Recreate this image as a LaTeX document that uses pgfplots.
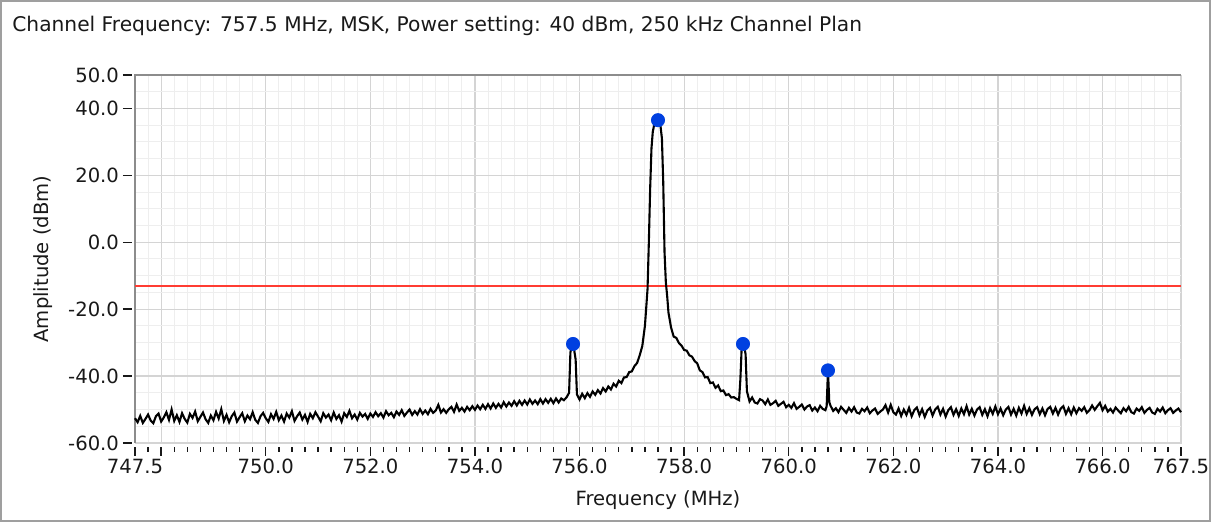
\documentclass[border=0pt]{standalone}
\usepackage{fontspec}
\setmainfont{DejaVu Sans}
\usepackage{pgfplots}
\pgfplotsset{compat=1.18}
\definecolor{majgrid}{RGB}{212,212,212}
\definecolor{mingrid}{RGB}{238,238,238}
\definecolor{axgray}{RGB}{140,140,140}
\definecolor{peakblue}{RGB}{0,64,224}
\definecolor{limred}{RGB}{255,60,50}
\definecolor{txt}{RGB}{25,25,25}

\begin{document}
\begin{tikzpicture}
\useasboundingbox (0pt,0pt) rectangle (605.5pt,261pt);
\draw[gray!75, line width=1pt] (0.5pt,0.5pt) rectangle (605pt,260.5pt);
\node[anchor=west, inner sep=0pt, text=txt, font=\fontsize{10.1}{12}\selectfont] at (6pt,248pt) {Channel Frequency: 757.5 MHz, MSK, Power setting: 40 dBm, 250 kHz Channel Plan};
\begin{axis}[
  at={(67.5pt,39.5pt)}, anchor=south west,
  scale only axis, width=523pt, height=184pt,
  xmin=747.5, xmax=767.5, ymin=-60, ymax=50,
  xtick={747.5,748,750,752,754,756,758,760,762,764,766,767.5},
  xticklabels={747.5,,750.0,752.0,754.0,756.0,758.0,760.0,762.0,764.0,766.0,767.5},
  minor xtick={747.5,747.75,...,767.5},
  ytick={-60,-40,-20,0,20,40,50},
  yticklabels={-60.0,-40.0,-20.0,0.0,20.0,40.0,50.0},
  minor ytick={-55,-50,...,45},
  grid=both,
  major grid style={majgrid, line width=0.6pt},
  minor grid style={mingrid, line width=0.5pt},
  axis line style={majgrid},
  tick pos=left,
  tick align=outside,
  major tick length=4.5pt, minor tick length=2.5pt,
  tick style={txt, line width=0.7pt},
  every minor y tick/.append style={draw=none},
  every major y tick/.append style={xshift=-1.5pt},
  every major x tick/.append style={yshift=-2pt},
  every minor x tick/.append style={yshift=-2pt},
  tick label style={text=txt, font=\fontsize{9.8}{12}\selectfont},
  label style={text=txt, font=\fontsize{9.8}{12}\selectfont},
  xlabel={Frequency (MHz)},
  ylabel={Amplitude (dBm)},
  xlabel style={at={(axis description cs:0.5,0)}, anchor=center, yshift=-28.5pt},
  ylabel style={at={(axis description cs:-0.088,0.5)}, anchor=center},
  clip=false,
]
\draw[axgray, line width=0.7pt] (rel axis cs:0,0) -- (rel axis cs:0,1) -- (rel axis cs:1,1);
\addplot[limred, line width=0.8pt] coordinates {(747.5,-13) (767.5,-13)};
\addplot[black, line width=1.05pt, mark=none] table {
747.50 -52.6
747.55 -53.8
747.60 -51.9
747.65 -54.0
747.70 -52.8
747.75 -51.5
747.80 -53.3
747.85 -54.1
747.90 -52.0
747.95 -51.2
748.00 -53.6
748.05 -52.4
748.10 -50.8
748.15 -53.1
748.20 -50.0
748.25 -53.4
748.30 -51.7
748.35 -53.7
748.40 -51.1
748.45 -52.8
748.50 -53.9
748.55 -51.3
748.60 -52.5
748.65 -50.6
748.70 -53.5
748.75 -52.2
748.80 -50.9
748.85 -52.9
748.90 -54.0
748.95 -51.8
749.00 -53.2
749.05 -50.7
749.10 -52.7
749.15 -49.9
749.20 -53.4
749.25 -51.6
749.30 -53.8
749.35 -52.0
749.40 -50.9
749.45 -53.6
749.50 -52.3
749.55 -51.1
749.60 -53.5
749.65 -51.8
749.70 -52.9
749.75 -50.8
749.80 -53.1
749.85 -54.0
749.90 -52.0
749.95 -51.0
750.00 -52.6
750.05 -53.7
750.10 -51.4
750.15 -52.8
750.20 -50.7
750.25 -53.2
750.30 -51.8
750.35 -53.6
750.40 -51.2
750.45 -52.4
750.50 -50.5
750.55 -53.4
750.60 -52.0
750.65 -50.9
750.70 -53.0
750.75 -51.6
750.80 -53.7
750.85 -51.3
750.90 -52.6
750.95 -50.8
751.00 -52.1
751.05 -53.5
751.10 -51.1
751.15 -52.4
751.20 -51.5
751.25 -53.2
751.30 -50.9
751.35 -52.8
751.40 -51.7
751.45 -53.6
751.50 -51.1
751.55 -52.2
751.60 -50.4
751.65 -52.6
751.70 -51.5
751.75 -53.0
751.80 -51.0
751.85 -52.1
751.90 -51.3
751.95 -52.8
752.00 -51.2
752.05 -52.2
752.10 -50.8
752.15 -52.0
752.20 -51.1
752.25 -52.4
752.30 -50.5
752.35 -51.7
752.40 -51.0
752.45 -52.3
752.50 -50.6
752.55 -51.6
752.60 -50.2
752.65 -51.9
752.70 -50.9
752.75 -50.0
752.80 -51.6
752.85 -50.5
752.90 -51.5
752.95 -49.9
753.00 -51.3
753.05 -50.3
753.10 -51.4
753.15 -49.8
753.20 -51.0
753.25 -50.3
753.30 -48.6
753.35 -50.9
753.40 -49.9
753.45 -51.0
753.50 -49.9
753.55 -49.2
753.60 -50.7
753.65 -48.5
753.70 -50.4
753.75 -49.5
753.80 -50.6
753.85 -49.2
753.90 -50.2
753.95 -49.0
754.00 -50.1
754.05 -48.8
754.10 -49.9
754.15 -48.6
754.20 -49.8
754.25 -48.4
754.30 -49.7
754.35 -48.2
754.40 -49.5
754.45 -48.3
754.50 -49.4
754.55 -47.8
754.60 -49.1
754.65 -47.9
754.70 -48.9
754.75 -47.5
754.80 -48.8
754.85 -47.4
754.90 -48.6
754.95 -47.3
755.00 -48.5
755.05 -47.0
755.10 -48.3
755.15 -47.3
755.20 -48.4
755.25 -46.9
755.30 -48.2
755.35 -46.9
755.40 -48.0
755.45 -46.8
755.50 -48.1
755.55 -46.7
755.60 -47.9
755.65 -46.7
755.70 -47.2
755.75 -46.4
755.80 -45.0
755.825 -33.0
755.85 -30.8
755.875 -30.4
755.90 -32.5
755.925 -35.0
755.95 -45.5
756.00 -47.0
756.05 -45.3
756.10 -46.6
756.15 -45.1
756.20 -46.2
756.25 -44.6
756.30 -45.6
756.35 -44.2
756.40 -45.2
756.45 -43.6
756.50 -44.6
756.55 -43.1
756.60 -44.0
756.65 -42.3
756.70 -43.1
756.75 -41.4
756.80 -42.1
756.85 -40.4
756.90 -40.3
756.95 -38.8
757.00 -38.6
757.05 -37.0
757.10 -36.1
757.15 -33.8
757.20 -31.0
757.25 -25.0
757.30 -14.0
757.325 0.0
757.35 16.0
757.375 28.0
757.40 33.0
757.425 35.0
757.45 36.0
757.475 36.6
757.50 36.5
757.525 35.8
757.55 34.5
757.575 31.0
757.60 18.0
757.625 -3.0
757.65 -12.0
757.675 -16.0
757.70 -21.0
757.75 -25.5
757.80 -28.2
757.85 -28.6
757.90 -30.1
757.95 -30.9
758.00 -32.2
758.05 -32.4
758.10 -33.8
758.15 -34.2
758.20 -35.5
758.25 -36.2
758.30 -38.3
758.35 -38.8
758.40 -40.4
758.45 -40.3
758.50 -42.1
758.55 -41.9
758.60 -43.5
758.65 -42.8
758.70 -44.5
758.75 -44.3
758.80 -45.7
758.85 -45.4
758.90 -46.4
758.95 -46.3
759.00 -46.8
759.05 -47.2
759.075 -41.0
759.10 -31.5
759.125 -30.4
759.15 -31.2
759.175 -33.5
759.20 -44.5
759.25 -47.6
759.30 -46.4
759.35 -47.9
759.40 -48.2
759.45 -46.9
759.50 -47.3
759.55 -48.4
759.60 -47.0
759.65 -48.6
759.70 -48.1
759.75 -47.4
759.80 -48.9
759.85 -48.3
759.90 -47.7
759.95 -49.3
760.00 -48.6
760.05 -49.5
760.10 -48.1
760.15 -49.8
760.20 -49.2
760.25 -48.5
760.30 -50.0
760.35 -49.1
760.40 -48.7
760.45 -50.3
760.50 -49.4
760.55 -50.5
760.60 -48.9
760.65 -49.8
760.70 -50.2
760.725 -49.0
760.75 -38.3
760.775 -47.8
760.80 -48.9
760.85 -50.4
760.90 -49.6
760.95 -50.8
761.00 -49.2
761.05 -50.1
761.10 -51.0
761.15 -49.5
761.20 -50.6
761.25 -49.3
761.30 -50.9
761.35 -51.2
761.40 -49.8
761.45 -50.5
761.50 -49.4
761.55 -51.1
761.60 -50.3
761.65 -49.7
761.70 -51.3
761.75 -50.6
761.80 -50.0
761.85 -48.7
761.90 -50.9
761.95 -48.6
762.00 -50.8
762.05 -51.5
762.10 -49.7
762.15 -51.9
762.20 -50.0
762.25 -51.6
762.30 -49.5
762.35 -52.0
762.40 -50.2
762.45 -49.4
762.50 -51.7
762.55 -49.9
762.60 -52.2
762.65 -50.3
762.70 -49.5
762.75 -51.8
762.80 -50.0
762.85 -49.2
762.90 -51.5
762.95 -49.8
763.00 -52.1
763.05 -50.2
763.10 -49.3
763.15 -51.6
763.20 -49.9
763.25 -51.9
763.30 -49.7
763.35 -51.4
763.40 -49.0
763.45 -51.5
763.50 -49.8
763.55 -51.8
763.60 -50.0
763.65 -49.3
763.70 -51.6
763.75 -49.9
763.80 -52.0
763.85 -49.6
763.90 -51.3
763.95 -49.1
764.00 -51.4
764.05 -49.7
764.10 -51.7
764.15 -50.0
764.20 -49.2
764.25 -51.5
764.30 -49.8
764.35 -51.8
764.40 -49.5
764.45 -51.2
764.50 -48.9
764.55 -51.3
764.60 -49.6
764.65 -51.6
764.70 -49.9
764.75 -49.3
764.80 -51.4
764.85 -49.7
764.90 -51.7
764.95 -49.8
765.00 -49.2
765.05 -51.2
765.10 -49.5
765.15 -51.5
765.20 -49.7
765.25 -49.0
765.30 -51.3
765.35 -49.6
765.40 -51.4
765.45 -49.4
765.50 -51.1
765.55 -49.6
765.60 -50.4
765.65 -49.3
765.70 -51.0
765.75 -50.2
765.80 -48.8
765.85 -50.1
765.90 -49.0
765.95 -48.0
766.00 -50.2
766.05 -48.9
766.10 -50.6
766.15 -49.8
766.20 -50.9
766.25 -49.4
766.30 -50.3
766.35 -51.1
766.40 -49.6
766.45 -50.5
766.50 -49.2
766.55 -50.8
766.60 -51.2
766.65 -49.7
766.70 -50.4
766.75 -49.3
766.80 -51.0
766.85 -50.1
766.90 -49.5
766.95 -50.9
767.00 -51.3
767.05 -49.8
767.10 -50.6
767.15 -49.4
767.20 -51.1
767.25 -50.2
767.30 -49.6
767.35 -51.0
767.40 -50.3
767.45 -49.7
767.50 -50.8
};
\addplot[only marks, mark=*, mark size=3.3pt, mark options={fill=peakblue, draw=peakblue}] coordinates {
(755.875,-30.4) (757.5,36.5) (759.125,-30.4) (760.75,-38.3)
};
\end{axis}
\end{tikzpicture}
\end{document}
